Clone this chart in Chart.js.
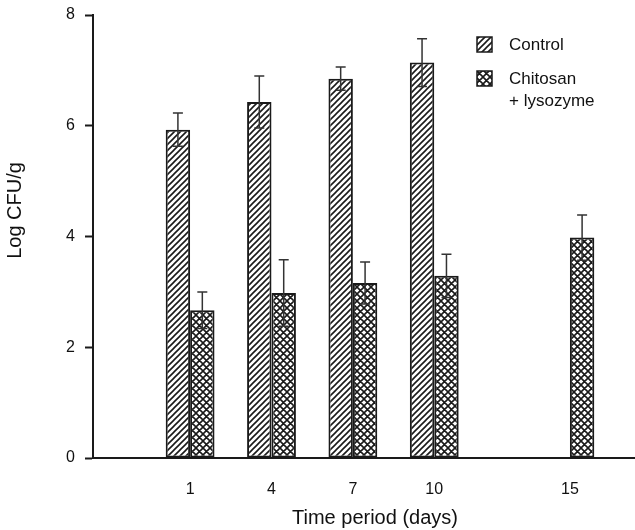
<!DOCTYPE html>
<html>
<head>
<meta charset="utf-8">
<script src="https://cdn.jsdelivr.net/npm/chart.js@4.4.1/dist/chart.umd.min.js"></script>
<style>
  html, body { margin: 0; padding: 0; background: #fff; }
  #wrap { width: 635px; height: 530px; }
</style>
</head>
<body>
<div id="wrap"><canvas id="cfuChart" width="635" height="530"></canvas></div>
<script>
// days sampled
const days = [1, 4, 7, 10, 15];
// log CFU/g (control has no value at day 15)
const controlMean = [5.93, 6.43, 6.85, 7.14, null];
const controlErr = [0.30, 0.47, 0.21, 0.43, null];
const chitosanMean = [2.67, 2.98, 3.16, 3.29, 3.98];
const chitosanErr = [0.33, 0.60, 0.38, 0.39, 0.41];
const yTicks = [0, 2, 4, 6, 8];

const ink = '#1a1a1a';
const fontFamily = '"Liberation Sans", Arial, sans-serif';

function hatchPattern() {
    const c = document.createElement('canvas');
    c.width = 6; c.height = 6;
    const g = c.getContext('2d');
    g.fillStyle = '#fff';
    g.fillRect(0, 0, 6, 6);
    g.strokeStyle = ink;
    g.lineWidth = 1.6;
    g.beginPath();
    g.moveTo(-1, 7); g.lineTo(7, -1);
    g.moveTo(-4, 4); g.lineTo(4, -4);
    g.moveTo(2, 10); g.lineTo(10, 2);
    g.stroke();
    return g.createPattern(c, 'repeat');
}

function crossPattern() {
    const c = document.createElement('canvas');
    c.width = 7; c.height = 7;
    const g = c.getContext('2d');
    g.fillStyle = '#fff';
    g.fillRect(0, 0, 7, 7);
    g.strokeStyle = ink;
    g.lineWidth = 1.6;
    g.beginPath();
    g.moveTo(-1, 8); g.lineTo(8, -1);
    g.moveTo(-1, -1); g.lineTo(8, 8);
    g.moveTo(-5, 4); g.lineTo(4, -5);
    g.moveTo(3, 12); g.lineTo(12, 3);
    g.moveTo(-5, 3); g.lineTo(4, 12);
    g.moveTo(3, -5); g.lineTo(12, 4);
    g.stroke();
    return g.createPattern(c, 'repeat');
}

const hatch = hatchPattern();
const cross = crossPattern();

function points(means) {
    return days.map((d, i) => ({ x: d, y: means[i] }));
}

// error bars with small caps, drawn over the bars
const errorBars = {
    id: 'errorBars',
    afterDatasetsDraw(chart) {
        const ctx = chart.ctx;
        const y = chart.scales.y;
        chart.data.datasets.forEach((ds, di) => {
            const meta = chart.getDatasetMeta(di);
            meta.data.forEach((bar, i) => {
                const m = ds.data[i].y;
                const e = ds.errors[i];
                if (m == null || e == null) return;
                const top = y.getPixelForValue(m + e);
                const bot = y.getPixelForValue(m - e);
                ctx.save();
                ctx.strokeStyle = '#333';
                ctx.lineWidth = 1.5;
                ctx.beginPath();
                ctx.moveTo(bar.x, top); ctx.lineTo(bar.x, bot);
                ctx.moveTo(bar.x - 5, top); ctx.lineTo(bar.x + 5, top);
                ctx.moveTo(bar.x - 5, bot); ctx.lineTo(bar.x + 5, bot);
                ctx.stroke();
                ctx.restore();
            });
        });
    }
};

// legend in the upper right, second label on two lines
const boxLegend = {
    id: 'boxLegend',
    afterDraw(chart) {
        const ctx = chart.ctx;
        const items = [
            { fill: hatch, lines: ['Control'], y: 37 },
            { fill: cross, lines: ['Chitosan', '+ lysozyme'], y: 71 }
        ];
        ctx.save();
        ctx.font = '17px ' + fontFamily;
        ctx.textBaseline = 'middle';
        items.forEach(it => {
            ctx.fillStyle = it.fill;
            ctx.fillRect(477, it.y, 15, 15);
            ctx.strokeStyle = ink;
            ctx.lineWidth = 1.5;
            ctx.strokeRect(477, it.y, 15, 15);
            ctx.fillStyle = '#111';
            it.lines.forEach((t, k) => ctx.fillText(t, 509, it.y + 8 + k * 22));
        });
        ctx.restore();
    }
};

// axis titles, placed where the original figure has them (not quite centred)
const axisTitles = {
    id: 'axisTitles',
    afterDraw(chart) {
        const ctx = chart.ctx;
        const area = chart.chartArea;
        ctx.save();
        ctx.font = '20px ' + fontFamily;
        ctx.fillStyle = '#111';
        ctx.textAlign = 'center';
        ctx.textBaseline = 'middle';
        ctx.fillText('Time period (days)', (area.left + area.right) / 2 + 11, 518);
        ctx.translate(15, (area.top + area.bottom) / 2 - 26);
        ctx.rotate(-Math.PI / 2);
        ctx.fillText('Log CFU/g', 0, 0);
        ctx.restore();
    }
};

new Chart(document.getElementById('cfuChart').getContext('2d'), {
    type: 'bar',
    data: {
        datasets: [{
            label: 'Control',
            data: points(controlMean),
            errors: controlErr,
            backgroundColor: hatch,
            borderColor: ink,
            borderWidth: 2,
            borderSkipped: false
        }, {
            label: 'Chitosan + lysozyme',
            data: points(chitosanMean),
            errors: chitosanErr,
            backgroundColor: cross,
            borderColor: ink,
            borderWidth: 2,
            borderSkipped: false
        }]
    },
    options: {
        responsive: false,
        animation: false,
        categoryPercentage: 0.6,
        barPercentage: 1.0,
        layout: { padding: { top: 15, right: 0, left: 0, bottom: 0 } },
        plugins: {
            legend: { display: false },
            tooltip: { enabled: false }
        },
        scales: {
            x: {
                type: 'linear',
                offset: false,
                min: -2.58,
                max: 17.4,
                afterBuildTicks: function (scale) {
                    scale.ticks = days.map(v => ({ value: v }));
                },
                afterFit: function (scale) {
                    scale.height = 72;
                    scale.paddingLeft = 0;
                    scale.paddingRight = 0;
                },
                grid: { display: false, drawTicks: false },
                border: { display: true, color: ink, width: 2 },
                ticks: {
                    color: '#111',
                    padding: 22,
                    font: { family: fontFamily, size: 16 },
                    callback: v => String(v)
                },
                title: { display: false }
            },
            y: {
                min: 0,
                max: 8,
                afterBuildTicks: function (scale) {
                    scale.ticks = yTicks.map(v => ({ value: v }));
                },
                afterFit: function (scale) {
                    scale.width = 93;
                    scale.paddingTop = 0;
                    scale.paddingBottom = 0;
                },
                grid: {
                    display: true,
                    drawOnChartArea: false,
                    drawTicks: true,
                    tickLength: 8,
                    tickColor: ink,
                    tickWidth: 2
                },
                border: { display: true, color: ink, width: 2 },
                ticks: {
                    color: '#111',
                    padding: 10,
                    font: { family: fontFamily, size: 16 }
                },
                title: { display: false }
            }
        }
    },
    plugins: [errorBars, boxLegend, axisTitles]
});
</script>
</body>
</html>
